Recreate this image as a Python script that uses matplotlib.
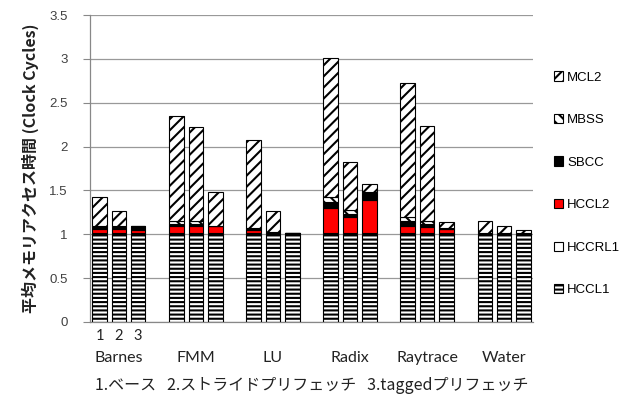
import numpy as np
import matplotlib.pyplot as plt
from matplotlib.patches import Patch

# Datos (3 barras por benchmark: 1.ベース 2.ストライド 3.tagged)
grupos = ['Barnes', 'FMM', 'LU', 'Radix', 'Raytrace', 'Water']
HCCL1 = [1.0, 1.0, 1.0, 1.0, 1.0, 1.0, 1.0, 1.0, 1.0,
         1.0, 1.0, 1.0, 1.0, 1.0, 1.0, 1.0, 1.0, 1.0]
HCCRL1 = [0.01, 0.01, 0.01, 0.01, 0.01, 0.01, 0.01, 0.01, 0.01,
          0.01, 0.01, 0.01, 0.01, 0.01, 0.01, 0.01, 0.01, 0.01]
HCCL2 = [0.05, 0.05, 0.04, 0.09, 0.09, 0.08, 0.035, 0.015, 0.0,
         0.29, 0.19, 0.38, 0.09, 0.075, 0.045, 0.0, 0.0, 0.0]
SBCC = [0.02, 0.02, 0.04, 0.02, 0.02, 0.01, 0.01, 0.0, 0.01,
        0.07, 0.035, 0.085, 0.05, 0.03, 0.01, 0.005, 0.005, 0.01]
MBSS = [0.01, 0.01, 0.0, 0.03, 0.03, 0.0, 0.02, 0.0, 0.0,
        0.06, 0.04, 0.01, 0.05, 0.04, 0.01, 0.0, 0.0, 0.0]
MCL2 = [0.34, 0.17, 0.0, 1.20, 1.075, 0.38, 1.0, 0.245, 0.0,
        1.575, 0.545, 0.085, 1.53, 1.08, 0.06, 0.14, 0.083, 0.03]

series = [('HCCL1', HCCL1, 'white', '----'),
          ('HCCRL1', HCCRL1, 'white', ''),
          ('HCCL2', HCCL2, '#ff0000', ''),
          ('SBCC', SBCC, 'black', ''),
          ('MBSS', MBSS, 'white', '\\\\\\'),
          ('MCL2', MCL2, 'white', '///')]

plt.rcParams['hatch.linewidth'] = 1.5

# posiciones: 3 barras + 1 hueco por grupo
x = np.array([g * 4 + i for g in range(len(grupos)) for i in range(3)])

fig = plt.figure(figsize=(6.41, 4.03), dpi=100)
ax = fig.add_axes([90 / 641, 1 - 322 / 403, 443 / 641, 307 / 403])

base = np.zeros(len(x))
for nombre, vals, color, hatch in series:
    ax.bar(x, vals, width=0.76, bottom=base, color=color, edgecolor='black',
           hatch=hatch, linewidth=0.8, zorder=3)
    base += np.array(vals)

ax.set_xlim(-0.5, 22.5)
ax.set_ylim(0, 3.5)
ax.set_yticks(np.arange(0, 3.51, 0.5))
ax.set_yticklabels(['0', '0.5', '1', '1.5', '2', '2.5', '3', '3.5'],
                   family='Liberation Sans', fontsize=9.5, color='#404040')
ax.tick_params(axis='y', length=5, pad=11, color='#888888')
ax.set_xticks([])
ax.grid(axis='y', color='#999999', linewidth=0.9, zorder=0)
for s in ['top', 'right']:
    ax.spines[s].set_visible(False)
for s in ['left', 'bottom']:
    ax.spines[s].set_color('#888888')
    ax.spines[s].set_linewidth(0.9)

trans = ax.get_xaxis_transform()
for i, t in enumerate(['1', '2', '3']):
    ax.text(x[i], -14 / 307, t, transform=trans, ha='center', va='center',
            family='Lato', fontsize=10.5, color='#222222')
for g, nombre in enumerate(grupos):
    ax.text(g * 4 + 1, -36 / 307, nombre, transform=trans, ha='center', va='center',
            family='Lato', fontsize=11.5, color='#222222')

fig.text(312 / 641, 1 - 386 / 403, '1.ベース   2.ストライドプリフェッチ   3.taggedプリフェッチ',
         ha='center', va='center', family=['Noto Sans CJK JP', 'DejaVu Sans'],
         fontsize=11.5, color='#222222')

fig.text(30 / 641, 1 - 168 / 403, '平均メモリアクセス時間 (Clock Cycles)', rotation=90,
         ha='center', va='center', family=['Noto Sans CJK JP', 'DejaVu Sans'],
         fontsize=11.5, fontweight='bold', color='#222222')

handles = [Patch(facecolor=c, edgecolor='black', hatch=h, linewidth=0.8, label=n)
           for n, v, c, h in reversed(series)]
ax.legend(handles=handles, loc='center left', bbox_to_anchor=(1.02, 0.45),
          frameon=False, handlelength=0.7, handleheight=0.7, handletextpad=0.3,
          labelspacing=2.3, prop={'family': 'Liberation Sans', 'size': 9.5})

fig.savefig('out.png', dpi=100)
